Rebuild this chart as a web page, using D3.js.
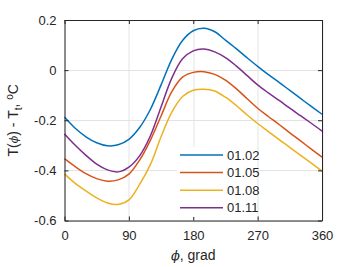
<!DOCTYPE html>
<html>
<head>
<meta charset="utf-8">
<script src="https://cdn.jsdelivr.net/npm/d3@7"></script>
<style>
  body { margin: 0; background: #fff; }
  text { font-family: "Liberation Sans", Arial, sans-serif; fill: #262626; }
</style>
</head>
<body>
<div id="chart"></div>
<script>
// phi, grad
var phi = [0,15,30,45,60,75,90,105,120,135,150,165,180,195,210,225,240,255,270,285,300,315,330,345,360];

// T(phi) - Tt per date
var s0102 = [-0.187,-0.232,-0.266,-0.290,-0.302,-0.298,-0.276,-0.229,-0.157,-0.059,0.043,0.118,0.157,0.167,0.153,0.120,0.086,0.050,0.015,-0.018,-0.049,-0.081,-0.113,-0.145,-0.176];
var s0105 = [-0.353,-0.385,-0.413,-0.433,-0.443,-0.438,-0.415,-0.359,-0.280,-0.183,-0.086,-0.028,-0.009,-0.006,-0.017,-0.040,-0.074,-0.113,-0.152,-0.185,-0.217,-0.250,-0.282,-0.315,-0.347];
var s0108 = [-0.414,-0.452,-0.482,-0.510,-0.530,-0.536,-0.518,-0.456,-0.377,-0.266,-0.168,-0.105,-0.080,-0.076,-0.083,-0.108,-0.141,-0.178,-0.213,-0.245,-0.277,-0.308,-0.340,-0.371,-0.403];
var s0111 = [-0.255,-0.300,-0.340,-0.375,-0.398,-0.406,-0.387,-0.342,-0.263,-0.147,-0.032,0.045,0.077,0.084,0.073,0.050,0.017,-0.021,-0.059,-0.091,-0.121,-0.152,-0.182,-0.212,-0.243];

var seriesNames = ["01.02","01.05","01.08","01.11"];
var seriesData = [s0102, s0105, s0108, s0111];
var colors = ["#0072BD","#D95319","#EDB120","#7E2F8E"];

var xTicks = [0,90,180,270,360];
var yTicks = [-0.6,-0.4,-0.2,0,0.2];

var W = 356, H = 267;
var margin = {top: 20, right: 34, bottom: 46.5, left: 64.5};
var width = W - margin.left - margin.right,
    height = H - margin.top - margin.bottom;

var svg = d3.select("#chart").append("svg")
    .attr("width", W).attr("height", H);

var g = svg.append("g")
    .attr("transform", "translate(" + margin.left + "," + margin.top + ")");

var x = d3.scaleLinear().domain([0, 360]).range([0, width]);
var y = d3.scaleLinear().domain([-0.6, 0.2]).range([height, 0]);

//Grid
g.append("g").selectAll("line").data(xTicks).enter().append("line")
    .attr("x1", function(d){ return Math.round(x(d)) + 0.5; })
    .attr("x2", function(d){ return Math.round(x(d)) + 0.5; })
    .attr("y1", 0).attr("y2", height)
    .style("stroke", "#e3e3e3").style("stroke-width", 1);
g.append("g").selectAll("line").data(yTicks).enter().append("line")
    .attr("y1", function(d){ return Math.round(y(d)) + 0.5; })
    .attr("y2", function(d){ return Math.round(y(d)) + 0.5; })
    .attr("x1", 0).attr("x2", width)
    .style("stroke", "#e3e3e3").style("stroke-width", 1);

//Lines
var line = d3.line()
    .x(function(d){ return x(d[0]); })
    .y(function(d){ return y(d[1]); })
    .curve(d3.curveCatmullRom.alpha(0.5));

seriesData.forEach(function(s, i){
    g.append("path")
        .datum(phi.map(function(p, j){ return [p, s[j]]; }))
        .attr("d", line)
        .style("fill", "none")
        .style("stroke", colors[i])
        .style("stroke-width", 1.5);
});

//Axes
var fmtY = function(d){ return d === 0 ? "0" : d3.format(".1f")(d).replace("−","-"); };

var xAxis = g.append("g").attr("transform", "translate(0," + height + ")")
    .call(d3.axisBottom(x).tickValues(xTicks).tickSizeInner(-4).tickSizeOuter(0).tickPadding(10));
var xTop = g.append("g")
    .call(d3.axisTop(x).tickValues(xTicks).tickSizeInner(-4).tickSizeOuter(0).tickFormat(""));
var yAxis = g.append("g")
    .call(d3.axisLeft(y).tickValues(yTicks).tickSizeInner(-4).tickSizeOuter(0).tickPadding(8).tickFormat(fmtY));
var yRight = g.append("g").attr("transform", "translate(" + width + ",0)")
    .call(d3.axisRight(y).tickValues(yTicks).tickSizeInner(-4).tickSizeOuter(0).tickFormat(""));

[xAxis, xTop, yAxis, yRight].forEach(function(a){
    a.selectAll("path.domain").style("stroke", "#262626").style("stroke-width", 1);
    a.selectAll(".tick line").style("stroke", "#262626");
    a.selectAll("text").style("font-size", "13px").style("fill", "#262626")
        .style("font-family", "'Liberation Sans', Arial, sans-serif");
});

//Legend
var legend = g.append("g").attr("transform", "translate(" + (177 - margin.left) + "," + (147 - margin.top) + ")");
legend.append("rect").attr("width", 80).attr("height", 70).style("fill", "#fff");
seriesNames.forEach(function(n, i){
    var ly = 8 + i * 17.6;
    legend.append("line")
        .attr("x1", 3).attr("x2", 46).attr("y1", ly).attr("y2", ly)
        .style("stroke", colors[i]).style("stroke-width", 1.5);
    legend.append("text")
        .attr("x", 50).attr("y", ly).attr("dy", "0.35em")
        .style("font-size", "13px").text(n);
});

//Labels
var xl = svg.append("text")
    .attr("x", margin.left + width / 2).attr("y", 260)
    .attr("text-anchor", "middle").style("font-size", "14px");
xl.append("tspan").style("font-style", "italic").style("font-family", "'DejaVu Serif', serif").style("font-size", "13px").text("ϕ");
xl.append("tspan").text(", grad");

var yl = svg.append("text")
    .attr("transform", "translate(18," + (margin.top + height / 2) + ") rotate(-90)")
    .attr("text-anchor", "middle").style("font-size", "14px");
yl.append("tspan").text("T(");
yl.append("tspan").style("font-style", "italic").style("font-family", "'DejaVu Serif', serif").style("font-size", "11px").text("ϕ");
yl.append("tspan").text(") - T");
yl.append("tspan").attr("dy", 4).style("font-size", "10px").text("t");
yl.append("tspan").attr("dy", -4).text(", ");
yl.append("tspan").attr("dy", -5).style("font-size", "10px").text("o");
yl.append("tspan").attr("dy", 5).text("C");
</script>
</body>
</html>
